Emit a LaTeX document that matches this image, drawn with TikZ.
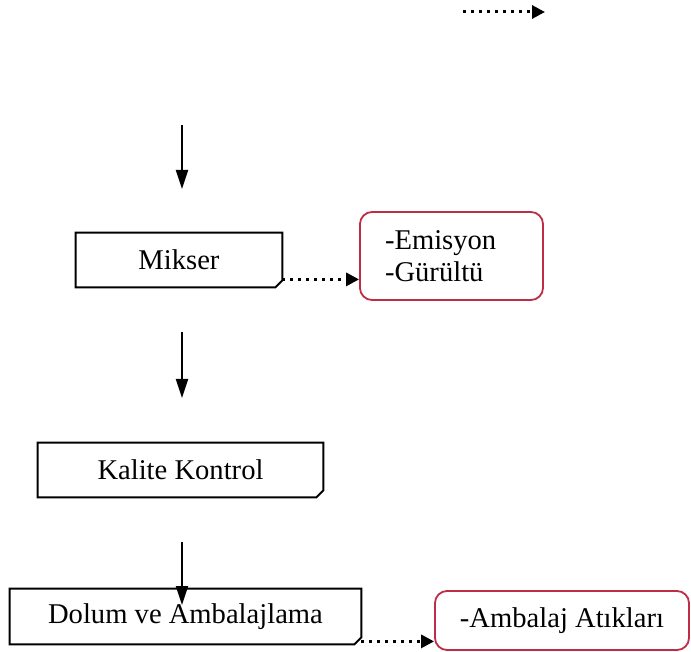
\documentclass[tikz,border=0pt]{standalone}
\usepackage{fontspec}
\setmainfont{Liberation Serif}
\usetikzlibrary{arrows.meta}
\definecolor{wastered}{RGB}{190,45,70}
\begin{document}
\begin{tikzpicture}[x=0.5pt,y=-0.5pt,
  every node/.style={font=\fontsize{14.3pt}{14pt}\selectfont, inner sep=0pt},
  procbox/.style={minimum width=#1, minimum height=27pt},
  wastebox/.style={draw=wastered, line width=0.9pt, rounded corners=6pt},
  flow/.style={line width=1.1pt, -{Triangle[length=9.5pt,width=6pt]}},
  waste/.style={line width=1.5pt, dash pattern=on 1.5pt off 2.5pt,
    -{Triangle[length=6.5pt,width=6.5pt]}},
  outline/.style={line width=1pt, line join=miter}
]
\useasboundingbox (0,0) rectangle (691,652);

% process steps (outline with folded lower-right corner drawn below)
\node[procbox=103pt] (mix) at (179,260) {Mikser};
\node[procbox=142.5pt] (qc) at (180.5,470) {Kalite Kontrol};
\node[procbox=175.5pt, minimum height=27.5pt] (pack) at (185.5,616.5) {Dolum ve Ambalajlama};

\foreach \n in {mix,qc,pack}{
  \draw[outline] (\n.north west) -- (\n.north east) -- ([yshift=3.5pt]\n.south east)
    -- ([xshift=-3.5pt]\n.south east) -- (\n.south west) -- cycle;
}

% outputs of the steps
\node[wastebox, minimum width=91.5pt, minimum height=44pt, text width=66.5pt,
      inner xsep=12.5pt, inner ysep=0pt, align=left] (emi) at (451.5,256)
  {\vspace*{2pt}-Emisyon\\-Gürültü};
\node[wastebox, minimum width=127pt, minimum height=29.5pt] (atik) at (562,620.5)
  {-Ambalaj Atıkları};

% free arrow ends
\coordinate (top1) at (463,12);
\coordinate (top2) at (545,12);
\coordinate (a1s) at (182,125);
\coordinate (a1e) at (182,189);
\coordinate (a2s) at (182,332);
\coordinate (a2e) at (182,398);
\coordinate (a3s) at (182,542);
\coordinate (a3e) at (182,605);

\draw[waste] (top1) -- (top2);
\draw[flow] (a1s) -- (a1e);
\draw[flow] (a2s) -- (a2e);
\draw[flow] (a3s) -- (a3e);

\path (mix.south east) ++(0,-8) coordinate (m1);
\draw[waste] (m1) -- (m1 -| emi.west);
\path (pack.south east) ++(0,-3) coordinate (p1);
\draw[waste] (p1) -- (p1 -| atik.west);
\end{tikzpicture}
\end{document}
